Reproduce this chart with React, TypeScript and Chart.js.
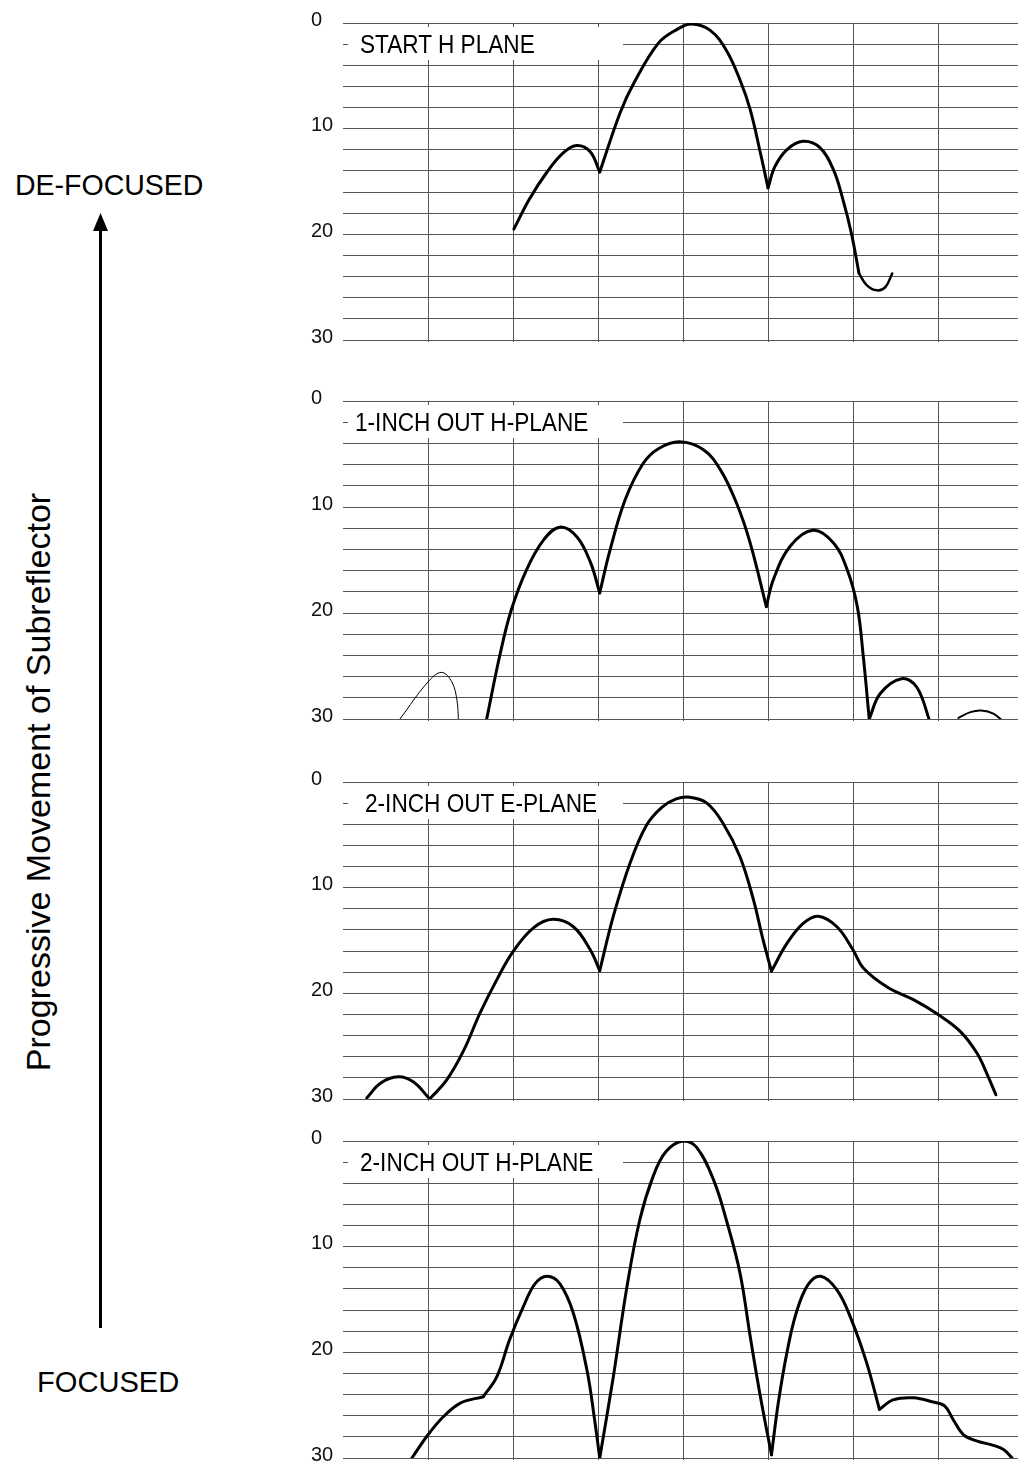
import React, { useEffect, useRef } from "react";
import { Chart, registerables } from "chart.js";

Chart.register(...registerables);

type Pt = [number, number];

const FONT = "'Liberation Sans', Arial, sans-serif";

// axes (x: angle in grid divisions, 0 = boresight; y: relative level, 0 at top)
const X_MIN = -4;
const X_MAX = 3.94;
const X_STEP = 1;
const Y_MIN = 0;
const Y_MAX = 30;
const Y_GRID_STEP = 2;
const Y_TICK_LABELS = [0, 10, 20, 30];

const PANEL_TITLES = [
  "START H PLANE",
  "1-INCH OUT H-PLANE",
  "2-INCH OUT E-PLANE",
  "2-INCH OUT H-PLANE",
];

// ---- Panel 1: START H PLANE ----
const startH_lobeL: Pt[] = [[-1.99, 19.5], [-1.81, 16.7], [-1.6, 14.1], [-1.41, 12.3], [-1.25, 11.6], [-1.09, 12.2], [-0.98, 14.1]];
const startH_main: Pt[] = [[-0.98, 14.1], [-0.74, 8.5], [-0.58, 5.7], [-0.29, 1.9], [-0.07, 0.6], [0.1, 0.1], [0.32, 0.7], [0.51, 2.6], [0.67, 5.4], [0.79, 8.2], [0.91, 12.3], [1.0, 15.6]];
const startH_lobeR: Pt[] = [[1.0, 15.6], [1.08, 13.6], [1.22, 12.0], [1.41, 11.2], [1.61, 11.8], [1.77, 13.9], [1.88, 16.7], [1.98, 19.9], [2.07, 23.7]];
const startH_tail: Pt[] = [[2.07, 23.7], [2.16, 24.8], [2.28, 25.3], [2.38, 25.0], [2.46, 23.7]];

// ---- Panel 2: 1-INCH OUT H-PLANE ----
const oneH_faint: Pt[] = [[-3.33, 30.0], [-3.0, 26.5], [-2.84, 25.6], [-2.72, 26.5], [-2.66, 28.2], [-2.64, 30.4]];
const oneH_lobeL: Pt[] = [[-2.31, 30.0], [-2.15, 23.8], [-2.02, 19.7], [-1.84, 15.9], [-1.64, 13.1], [-1.45, 11.9], [-1.25, 12.8], [-1.09, 15.2], [-0.98, 18.1]];
const oneH_main: Pt[] = [[-0.98, 18.1], [-0.86, 14.1], [-0.68, 9.3], [-0.47, 5.9], [-0.29, 4.5], [-0.04, 3.85], [0.24, 4.6], [0.44, 6.5], [0.63, 9.65], [0.79, 13.4], [0.98, 19.4]];
const oneH_lobeR: Pt[] = [[0.98, 19.4], [1.06, 16.9], [1.26, 13.7], [1.53, 12.2], [1.77, 13.4], [1.93, 15.9], [2.05, 19.4], [2.12, 24.1], [2.19, 30.0]];
const oneH_lobeR2: Pt[] = [[2.19, 30.0], [2.32, 27.6], [2.57, 26.2], [2.75, 27.0], [2.91, 30.4]];
const oneH_lobeR3: Pt[] = [[3.24, 29.9], [3.38, 29.35], [3.51, 29.2], [3.65, 29.5], [3.79, 30.4]];

// ---- Panel 3: 2-INCH OUT E-PLANE ----
const twoE_lobeLL: Pt[] = [[-3.72, 29.9], [-3.56, 28.5], [-3.35, 27.9], [-3.17, 28.4], [-2.98, 30.0]];
const twoE_lobeL: Pt[] = [[-2.98, 30.0], [-2.78, 28.2], [-2.58, 25.4], [-2.39, 21.9], [-2.19, 18.7], [-2.0, 16.05], [-1.76, 13.8], [-1.53, 13.0], [-1.29, 13.7], [-1.09, 15.9], [-0.98, 17.85]];
const twoE_main: Pt[] = [[-0.98, 17.85], [-0.82, 12.7], [-0.62, 7.6], [-0.43, 4.1], [-0.25, 2.4], [-0.08, 1.6], [0.08, 1.45], [0.28, 2.0], [0.47, 3.9], [0.67, 7.07], [0.83, 11.2], [0.94, 14.9], [1.04, 17.9]];
const twoE_lobeR: Pt[] = [[1.04, 17.9], [1.22, 15.3], [1.41, 13.4], [1.59, 12.7], [1.81, 13.7], [2.0, 15.9], [2.12, 17.6], [2.4, 19.4], [2.71, 20.6], [3.0, 22.0], [3.26, 23.6], [3.46, 25.7], [3.59, 27.9], [3.68, 29.6]];

// ---- Panel 4: 2-INCH OUT H-PLANE ----
const twoH_shoulder: Pt[] = [[-3.19, 30.0], [-3.0, 27.8], [-2.82, 26.1], [-2.62, 24.8], [-2.35, 24.2]];
const twoH_lobeL: Pt[] = [[-2.35, 24.2], [-2.19, 22.3], [-2.04, 18.8], [-1.88, 15.7], [-1.74, 13.5], [-1.6, 12.8], [-1.45, 13.5], [-1.29, 16.3], [-1.13, 21.7], [-1.04, 26.4], [-0.98, 30.0]];
const twoH_main: Pt[] = [[-0.98, 30.0], [-0.82, 22.3], [-0.66, 13.8], [-0.51, 7.5], [-0.35, 3.3], [-0.2, 1.0], [0.0, 0.0], [0.16, 0.6], [0.36, 3.7], [0.51, 7.5], [0.67, 12.5], [0.79, 18.5], [0.91, 24.2], [1.04, 29.7]];
const twoH_lobeR: Pt[] = [[1.04, 29.7], [1.12, 24.8], [1.22, 20.1], [1.33, 16.3], [1.47, 13.6], [1.62, 12.8], [1.81, 14.1], [1.98, 16.9], [2.16, 21.0], [2.31, 25.4]];
const twoH_tail: Pt[] = [[2.31, 25.4], [2.47, 24.5], [2.71, 24.3], [2.94, 24.7], [3.08, 25.1], [3.18, 26.4], [3.3, 27.8], [3.46, 28.4], [3.65, 28.8], [3.77, 29.2], [3.87, 30.0]];

type Series = { pts: Pt[]; w: number };

const PANEL_SERIES: Series[][] = [
  [
    { pts: startH_lobeL, w: 3 },
    { pts: startH_main, w: 3 },
    { pts: startH_lobeR, w: 3 },
    { pts: startH_tail, w: 2.5 },
  ],
  [
    { pts: oneH_faint, w: 1 },
    { pts: oneH_lobeL, w: 3 },
    { pts: oneH_main, w: 3 },
    { pts: oneH_lobeR, w: 3 },
    { pts: oneH_lobeR2, w: 3 },
    { pts: oneH_lobeR3, w: 2 },
  ],
  [
    { pts: twoE_lobeLL, w: 3 },
    { pts: twoE_lobeL, w: 3 },
    { pts: twoE_main, w: 3 },
    { pts: twoE_lobeR, w: 3 },
  ],
  [
    { pts: twoH_shoulder, w: 3 },
    { pts: twoH_lobeL, w: 3 },
    { pts: twoH_main, w: 3 },
    { pts: twoH_lobeR, w: 3 },
    { pts: twoH_tail, w: 3 },
  ],
];

// layout (page pixels)
const PANEL_TOPS = [23, 401, 782, 1141];
const PANEL_HEIGHTS = [317, 318, 317, 317];
const TITLE_TEXT_LEFT = [360, 355, 365, 360];
const AXIS_LEFT = 311;
const PLOT_LEFT = 343;
const PLOT_RIGHT = 1018;
const PAD = 14;

function Panel({ top, height, series }: { top: number; height: number; series: Series[] }) {
  const ref = useRef<HTMLCanvasElement | null>(null);
  useEffect(() => {
    if (!ref.current) return;
    const chart = new Chart(ref.current, {
      type: "line",
      data: {
        datasets: series.map((s) => ({
          data: s.pts.map(([x, y]) => ({ x, y })),
          borderColor: "#000",
          borderWidth: s.w,
          pointRadius: 0,
          pointHoverRadius: 0,
          fill: false,
          tension: 0.38,
          borderCapStyle: "round",
          borderJoinStyle: "round",
        })),
      },
      options: {
        animation: false,
        responsive: true,
        maintainAspectRatio: false,
        events: [],
        layout: { padding: { top: PAD, bottom: PAD, left: 0, right: 0 } },
        plugins: { legend: { display: false }, tooltip: { enabled: false }, title: { display: false } },
        scales: {
          x: {
            type: "linear",
            min: X_MIN,
            max: X_MAX,
            ticks: { display: false, stepSize: X_STEP, includeBounds: false },
            border: { display: false },
            grid: {
              color: (c: any) => (c.tick && c.tick.value <= X_MIN ? "rgba(0,0,0,0)" : "#555"),
              lineWidth: 1,
              drawTicks: true,
              tickLength: 2,
            },
            afterFit: (s: any) => {
              s.height = 0;
            },
          },
          y: {
            type: "linear",
            reverse: true,
            min: Y_MIN,
            max: Y_MAX,
            ticks: {
              stepSize: Y_GRID_STEP,
              autoSkip: false,
              padding: 0,
              labelOffset: -3,
              crossAlign: "far",
              color: "#111",
              font: { family: FONT, size: 20 },
              callback: (v: any) => (Y_TICK_LABELS.includes(Number(v)) ? String(v) : ""),
            },
            border: { display: false },
            grid: { color: "#555", lineWidth: 1, drawTicks: false },
            afterFit: (s: any) => {
              s.width = PLOT_LEFT - AXIS_LEFT;
            },
          },
        },
      } as any,
    });
    return () => chart.destroy();
  }, []);
  return (
    <div
      style={{
        position: "absolute",
        left: AXIS_LEFT,
        top: top - PAD,
        width: PLOT_RIGHT - AXIS_LEFT,
        height: height + 2 * PAD,
      }}
    >
      <canvas ref={ref} />
    </div>
  );
}

export default function App() {
  return (
    <div
      style={{
        position: "absolute",
        left: 0,
        top: 0,
        width: 1018,
        height: 1462,
        overflow: "hidden",
        background: "#fff",
        fontFamily: FONT,
        color: "#000",
      }}
    >
      {PANEL_SERIES.map((s, i) => (
        <Panel key={i} top={PANEL_TOPS[i]} height={PANEL_HEIGHTS[i]} series={s} />
      ))}
      {PANEL_TITLES.map((t, i) => (
        <div
          key={"t" + i}
          style={{
            position: "absolute",
            left: 348,
            top: PANEL_TOPS[i] + 4,
            width: 275,
            height: 33,
            background: "#fff",
            overflow: "visible",
          }}
        >
          <div
            style={{
              position: "absolute",
              left: TITLE_TEXT_LEFT[i] - 348,
              top: 1,
              fontSize: 26,
              lineHeight: "33px",
              whiteSpace: "nowrap",
              transform: "scaleX(0.87)",
              transformOrigin: "left center",
            }}
          >
            {t}
          </div>
        </div>
      ))}
      <div style={{ position: "absolute", left: 15, top: 170, fontSize: 30, lineHeight: "30px", whiteSpace: "nowrap", transform: "scaleX(0.95)", transformOrigin: "left center" }}>
        DE-FOCUSED
      </div>
      <div style={{ position: "absolute", left: 37, top: 1367, fontSize: 30, lineHeight: "30px", whiteSpace: "nowrap", transform: "scaleX(0.97)", transformOrigin: "left center" }}>
        FOCUSED
      </div>
      <div
        style={{
          position: "absolute",
          left: 38 - 320,
          top: 782 - 17,
          width: 640,
          height: 34,
          lineHeight: "34px",
          fontSize: 34,
          textAlign: "center",
          whiteSpace: "nowrap",
          transform: "rotate(-90deg)",
          transformOrigin: "center center",
        }}
      >
        Progressive Movement of Subreflector
      </div>
      <svg style={{ position: "absolute", left: 90, top: 210, overflow: "visible" }} width={22} height={1120}>
        <line x1={10.5} y1={18} x2={10.5} y2={1118} stroke="#000" strokeWidth={3} />
        <polygon points="10.5,3 3,21 18,21" fill="#000" />
      </svg>
    </div>
  );
}
